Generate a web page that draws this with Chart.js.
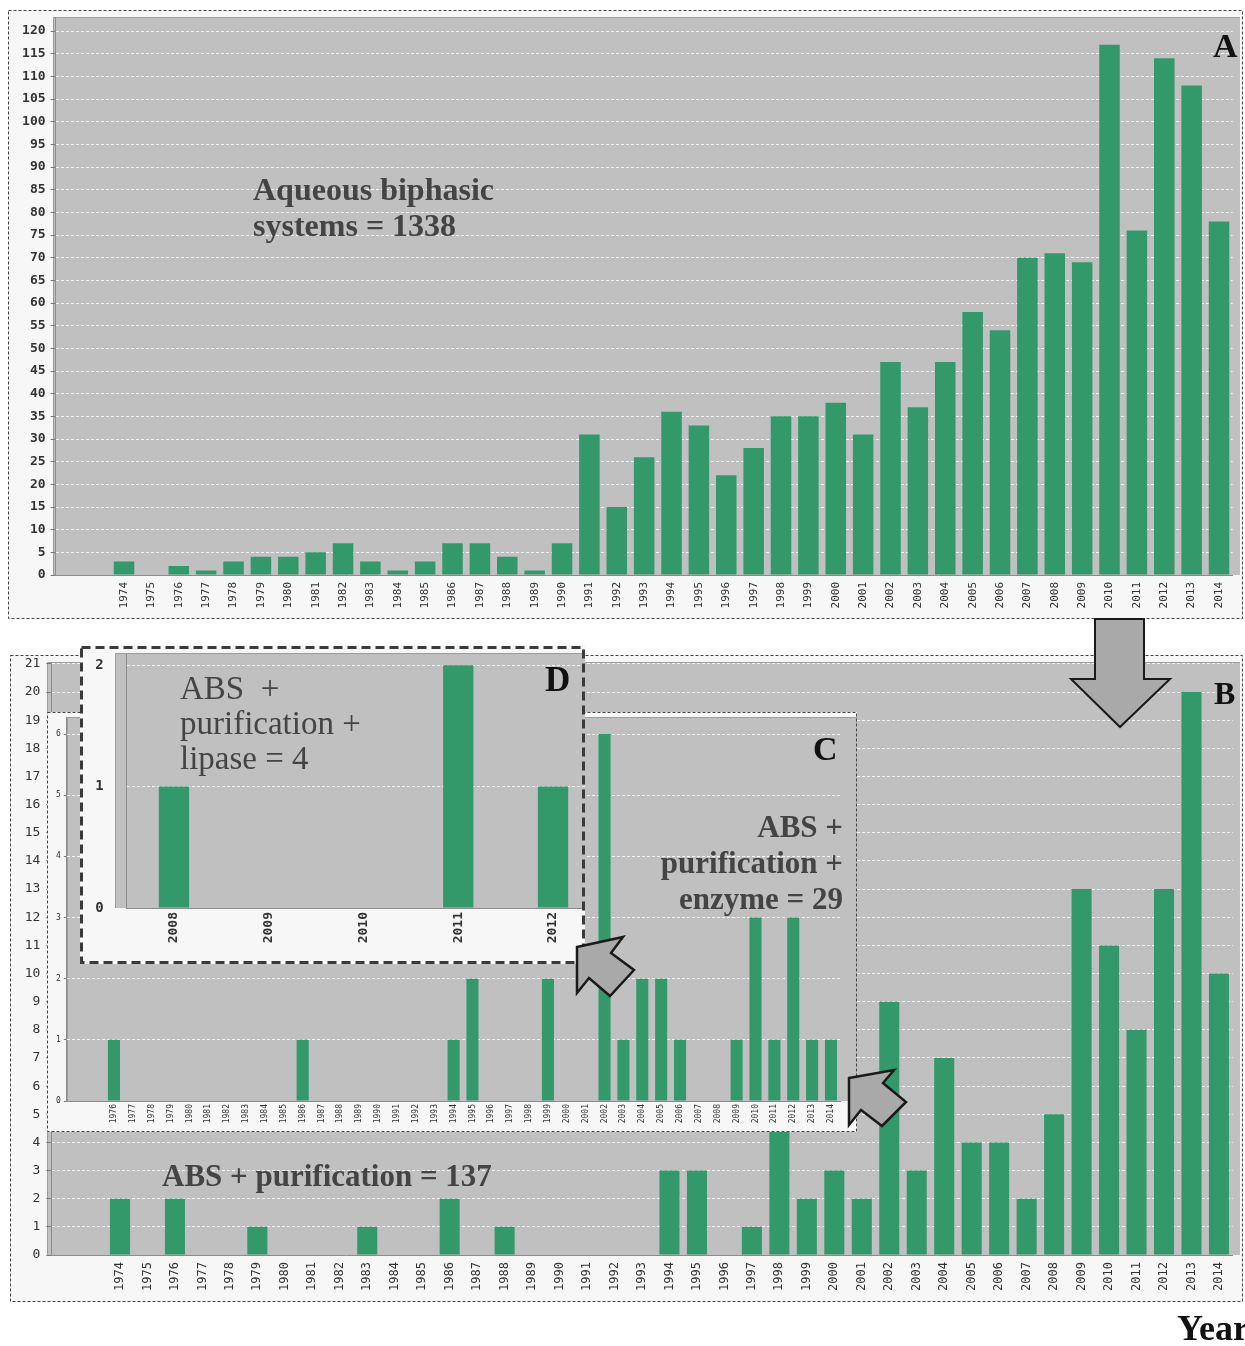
<!DOCTYPE html>
<html lang="en">
<head>
<meta charset="UTF-8">
<title>Aqueous biphasic systems – publications per year</title>
<script src="https://cdn.jsdelivr.net/npm/chart.js"></script>
<style>
  html, body { margin: 0; padding: 0; background: #fff; }
  #stage { position: relative; width: 1245px; height: 1346px; overflow: hidden; background: #fff; }
  .panel { position: absolute; overflow: hidden; background: #f7f7f7; }
  .panel canvas { position: absolute; left: 0; top: 0; }
  .panel svg.frame { position: absolute; left: 0; top: 0; }
  .note { position: absolute; font-family: 'Liberation Serif', serif; color: #444; white-space: pre; }
  .tag { position: absolute; font-family: 'Liberation Serif', serif; font-weight: bold; color: #111; line-height: 1; }
  svg.arrows { position: absolute; left: 0; top: 0; }
</style>
</head>
<body>
<div id="stage">

  <!-- A: all aqueous biphasic systems -->
  <div class="panel" style="left:8px;top:10px;width:1235px;height:609px;z-index:1">
    <canvas id="chartA" width="1235" height="609"></canvas>
    <svg class="frame" width="1235" height="609"><rect x="0.5" y="0.5" width="1234" height="608" fill="none" stroke="#444" stroke-width="1" stroke-dasharray="3 2"/></svg>
    <div class="note" style="left:245px;top:161px;font-size:32px;line-height:36px;font-weight:bold">Aqueous biphasic
systems = 1338</div>
    <div class="tag" style="left:1205px;top:19px;font-size:34px">A</div>
  </div>

  <!-- B: ABS + purification -->
  <div class="panel" style="left:10px;top:655px;width:1233px;height:647px;z-index:2">
    <canvas id="chartB" width="1233" height="647"></canvas>
    <svg class="frame" width="1233" height="647"><rect x="0.5" y="0.5" width="1232" height="646" fill="none" stroke="#444" stroke-width="1" stroke-dasharray="3 2"/></svg>
    <div class="note" style="left:152px;top:503px;font-size:31px;line-height:36px;font-weight:bold">ABS + purification = 137</div>
    <div class="tag" style="left:1204px;top:22px;font-size:32px">B</div>
  </div>

  <!-- C: ABS + purification + enzyme -->
  <div class="panel" style="left:47px;top:712px;width:810px;height:420px;z-index:3">
    <canvas id="chartC" width="810" height="420"></canvas>
    <svg class="frame" width="810" height="420"><rect x="0.5" y="0.5" width="809" height="419" fill="none" stroke="#444" stroke-width="1" stroke-dasharray="3 2"/></svg>
    <div class="note" style="right:14px;top:97px;font-size:31px;line-height:36px;font-weight:bold;text-align:right">ABS +
purification +
enzyme = 29</div>
    <div class="tag" style="left:766px;top:20px;font-size:34px">C</div>
  </div>

  <svg class="arrows" width="1245" height="1346" style="z-index:4">
    <polygon points="1095,619 1144,619 1144,679 1170,679 1120,727 1071,679 1095,679" fill="#a9a9a9" stroke="#1a1a1a" stroke-width="2"/>
    <polygon points="849,1078 894,1070 883,1083 906,1102 882,1126 861,1110 849,1125" fill="#a9a9a9" stroke="#1a1a1a" stroke-width="2.5"/>
  </svg>

  <!-- D: ABS + purification + lipase -->
  <div class="panel" style="left:80px;top:646px;width:505px;height:318px;z-index:5">
    <canvas id="chartD" width="530" height="318"></canvas>
    <svg class="frame" width="505" height="318"><rect x="1.5" y="1.5" width="502" height="315" fill="none" stroke="#3a3a3a" stroke-width="3" stroke-dasharray="9 5"/></svg>
    <div class="note" style="left:100px;top:25px;font-size:33px;line-height:35px">ABS  +
purification +
lipase = 4</div>
    <div class="tag" style="left:465px;top:16px;font-size:35px">D</div>
  </div>

  <svg class="arrows" width="1245" height="1346" style="z-index:6">
    <polygon points="577,947 623,937 611,953 634,970 610,996 589,978 577,993" fill="#a9a9a9" stroke="#1a1a1a" stroke-width="2.5"/>
  </svg>

  <div class="tag" style="left:1177px;top:1310px;font-size:36px;z-index:7">Year</div>
</div>

<script>
  // categories
  const leadingBlanks = ['', ''];
  const yearsAll = ['1974','1975','1976','1977','1978','1979','1980','1981','1982','1983',
                    '1984','1985','1986','1987','1988','1989','1990','1991','1992','1993',
                    '1994','1995','1996','1997','1998','1999','2000','2001','2002','2003',
                    '2004','2005','2006','2007','2008','2009','2010','2011','2012','2013','2014'];
  const yearsEnzyme = ['1976','1977','1978','1979','1980','1981','1982','1983','1984','1985',
                       '1986','1987','1988','1989','1990','1991','1992','1993','1994','1995',
                       '1996','1997','1998','1999','2000','2001','2002','2003','2004','2005',
                       '2006','2007','2008','2009','2010','2011','2012','2013','2014'];
  const yearsLipase = ['2008','2009','2010','2011','2012'];

  // publications per year
  const absTotal = [3,0,2,1,3,4,4,5,7,3,
                    1,3,7,7,4,1,7,31,15,26,
                    36,33,22,28,35,35,38,31,47,37,
                    47,58,54,70,71,69,117,76,114,108,78];
  const absPurification = [2,0,2,0,0,1,0,0,0,1,
                           0,0,2,0,1,0,0,0,0,0,
                           3,3,0,1,5,2,3,2,9,3,
                           7,4,4,2,5,13,11,8,13,20,10];
  const absEnzyme = [1,0,0,0,0,0,0,0,0,0,
                     1,0,0,0,0,0,0,0,1,2,
                     0,0,0,2,0,0,6,1,2,2,
                     1,0,0,1,3,1,3,1,1];
  const absLipase = [1,0,0,2,1];

  const BAR_GREEN = '#34996a';
  const MONO = "'DejaVu Sans Mono', monospace";

  // grey plot background behind the bars
  const plotBg = {
    id: 'plotBg',
    beforeDraw(chart, args, opts) {
      const { ctx, chartArea: a } = chart;
      const x0 = opts.left ?? a.left, x1 = opts.right ?? a.right;
      ctx.save();
      ctx.fillStyle = '#c0c0c0';
      ctx.fillRect(x0, a.top, x1 - x0, a.bottom - a.top);
      ctx.strokeStyle = '#9c9c9c';
      ctx.lineWidth = 1;
      ctx.beginPath();
      ctx.moveTo(x0 + 0.5, a.bottom);
      ctx.lineTo(x0 + 0.5, a.top + 0.5);
      ctx.lineTo(x1, a.top + 0.5);
      ctx.stroke();
      ctx.restore();
    }
  };

  function barChart(id, o) {
    return new Chart(document.getElementById(id), {
      type: 'bar',
      data: {
        labels: o.labels,
        datasets: [{ data: o.values, backgroundColor: BAR_GREEN, borderWidth: 0,
                     barPercentage: o.bar, categoryPercentage: 1 }]
      },
      options: {
        responsive: false,
        animation: false,
        events: [],
        layout: { padding: { left: 0, top: o.top, right: o.right, bottom: 0 } },
        plugins: {
          legend: { display: false },
          tooltip: { enabled: false },
          plotBg: { left: o.bgLeft, right: o.bgRight }
        },
        scales: {
          x: {
            grid: { display: false, drawTicks: false },
            border: { color: '#8c8c8c' },
            ticks: { autoSkip: false, minRotation: 90, maxRotation: 90, padding: o.xPad,
                     font: o.xFont, color: '#333' },
            afterFit: s => { s.height = o.xH; s.paddingLeft = 0; s.paddingRight = 0; }
          },
          y: {
            min: 0, max: o.max,
            grid: { color: 'rgba(255,255,255,0.85)', drawTicks: o.tick > 0,
                    tickLength: o.tick, tickColor: '#7a7a7a' },
            border: { color: '#8c8c8c', dash: [3, 2] },
            ticks: { padding: o.yPad, font: o.yFont, color: '#333' },
            // ticks at every whole step, leaving the headroom above the top one unlabelled
            afterBuildTicks: s => {
              const t = [];
              for (let v = 0; v <= o.max + 1e-9; v += o.step) t.push({ value: v });
              s.ticks = t;
            },
            afterFit: s => { s.width = o.yW; s.paddingTop = 0; s.paddingBottom = 0; }
          }
        }
      },
      plugins: [plotBg]
    });
  }

  barChart('chartA', {
    labels: [...leadingBlanks, ...yearsAll], values: [null, null, ...absTotal],
    max: 123.1, step: 5, yW: 47.6, top: 7, right: 10.3, xH: 44, bar: 0.75,
    bgLeft: 45, bgRight: 1232, tick: 5, yPad: 5, xPad: 7,
    yFont: { family: MONO, size: 13, weight: 'bold' }, xFont: { family: MONO, size: 11 }
  });

  barChart('chartB', {
    labels: [...leadingBlanks, ...yearsAll], values: [null, null, ...absPurification],
    max: 21.07, step: 1, yW: 41.3, top: 7, right: 10.3, xH: 47, bar: 0.73,
    bgLeft: 37, bgRight: 1230, tick: 5, yPad: 6, xPad: 7,
    yFont: { family: MONO, size: 13 }, xFont: { family: MONO, size: 12 }
  });

  barChart('chartC', {
    labels: [...leadingBlanks, ...yearsEnzyme], values: [null, null, ...absEnzyme],
    max: 6.28, step: 1, yW: 19.8, top: 5, right: 16.6, xH: 31, bar: 0.64,
    bgLeft: 20, bgRight: 810, tick: 3, yPad: 3, xPad: 3,
    yFont: { family: MONO, size: 8 }, xFont: { family: MONO, size: 8 }
  });

  barChart('chartD', {
    labels: yearsLipase, values: absLipase,
    max: 2.1, step: 1, yW: 46.6, top: 7, right: 9.6, xH: 56, bar: 0.32,
    bgLeft: 35, bgRight: 530, tick: 0, yPad: 23, xPad: 4,
    yFont: { family: MONO, size: 14, weight: 'bold' }, xFont: { family: MONO, size: 13, weight: 'bold' }
  });
</script>
</body>
</html>
